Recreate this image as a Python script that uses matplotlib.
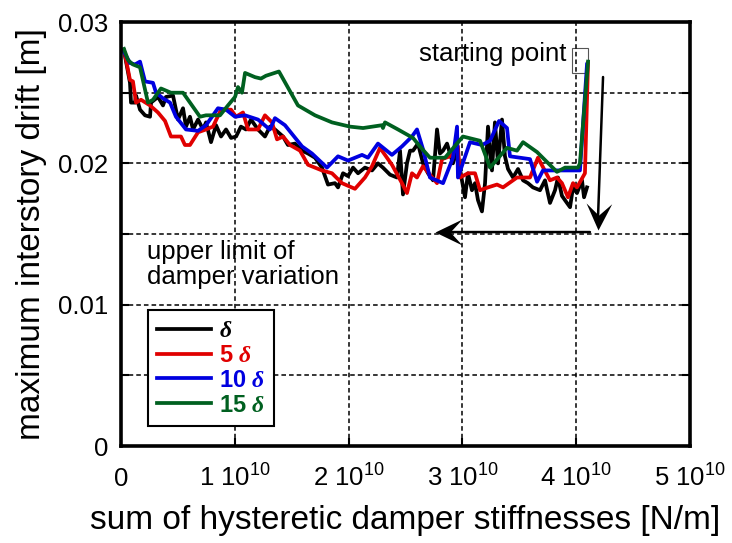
import matplotlib
matplotlib.use('Agg')
import matplotlib.pyplot as plt
from matplotlib.patches import Rectangle
from matplotlib.path import Path
import numpy as np

plt.rcParams['font.family'] = ['Liberation Sans', 'DejaVu Sans']
plt.rcParams['mathtext.fontset'] = 'custom'
plt.rcParams['mathtext.rm'] = 'Liberation Sans'
plt.rcParams['mathtext.it'] = 'Liberation Serif:italic:bold'
plt.rcParams['mathtext.default'] = 'regular'

# stiffness sum in units of 1e10 N/m, drift in m
x_d = [0.026, 0.079, 0.088, 0.123, 0.132, 0.167, 0.211, 0.255, 0.264, 0.325, 0.369, 0.395,
       0.457, 0.501, 0.545, 0.571, 0.606, 0.633, 0.677, 0.721, 0.747, 0.791, 0.835, 0.879,
       0.923, 0.967, 1.011, 1.054, 1.098, 1.142, 1.204, 1.265, 1.309, 1.353, 1.424, 1.467,
       1.529, 1.591, 1.643, 1.705, 1.766, 1.819, 1.880, 1.907, 1.951, 1.995, 2.039, 2.083,
       2.144, 2.206, 2.258, 2.302, 2.364, 2.425, 2.452, 2.478, 2.513, 2.540, 2.566, 2.610,
       2.654, 2.698, 2.742, 2.777, 2.803, 2.830, 2.865, 2.891, 2.917, 2.953, 2.996, 3.023,
       3.049, 3.084, 3.111, 3.137, 3.172, 3.199, 3.225, 3.260, 3.286, 3.313, 3.348, 3.374,
       3.401, 3.445, 3.489, 3.533, 3.576, 3.620, 3.682, 3.726, 3.770, 3.814, 3.840, 3.875,
       3.919, 3.946, 3.972, 4.007, 4.051, 4.069, 4.095]
y_d = [0.0280, 0.0257, 0.0243, 0.0243, 0.0248, 0.0238, 0.0234, 0.0233, 0.0243, 0.0247, 0.0241, 0.0247,
       0.0248, 0.0231, 0.0239, 0.0226, 0.0233, 0.0224, 0.0231, 0.0224, 0.0229, 0.0215, 0.0227, 0.0219,
       0.0224, 0.0218, 0.0219, 0.0226, 0.0224, 0.0231, 0.0224, 0.0219, 0.0226, 0.0224, 0.0219, 0.0213,
       0.0214, 0.0209, 0.0207, 0.0204, 0.0197, 0.0185, 0.0186, 0.0183, 0.0193, 0.0191, 0.0197, 0.0193,
       0.0197, 0.0195, 0.0200, 0.0197, 0.0192, 0.0190, 0.0209, 0.0178, 0.0200, 0.0209, 0.0209, 0.0214,
       0.0200, 0.0193, 0.0188, 0.0224, 0.0207, 0.0209, 0.0214, 0.0207, 0.0200, 0.0209, 0.0188, 0.0176,
       0.0193, 0.0181, 0.0186, 0.0174, 0.0166, 0.0186, 0.0226, 0.0195, 0.0229, 0.0200, 0.0231, 0.0205,
       0.0196, 0.0190, 0.0196, 0.0188, 0.0186, 0.0183, 0.0181, 0.0188, 0.0172, 0.0181, 0.0190, 0.0177,
       0.0172, 0.0169, 0.0183, 0.0179, 0.0188, 0.0176, 0.0183]

x_5d = [0.035, 0.079, 0.105, 0.132, 0.176, 0.255, 0.325, 0.387, 0.439, 0.527, 0.562, 0.606,
        0.677, 0.747, 0.808, 0.879, 0.967, 1.011, 1.072, 1.116, 1.204, 1.265, 1.327, 1.371,
        1.424, 1.485, 1.573, 1.643, 1.766, 1.854, 1.942, 2.056, 2.144, 2.206, 2.276, 2.381,
        2.469, 2.513, 2.557, 2.601, 2.654, 2.777, 2.821, 2.891, 2.961, 2.979, 3.049, 3.111,
        3.155, 3.225, 3.304, 3.357, 3.480, 3.594, 3.664, 3.770, 3.831, 3.875, 3.928, 3.972,
        4.007, 4.077, 4.104]
y_5d = [0.0277, 0.0259, 0.0258, 0.0243, 0.0245, 0.0241, 0.0236, 0.0230, 0.0219, 0.0219, 0.0213, 0.0213,
        0.0222, 0.0224, 0.0226, 0.0238, 0.0238, 0.0233, 0.0236, 0.0224, 0.0224, 0.0234, 0.0229, 0.0217,
        0.0219, 0.0213, 0.0209, 0.0199, 0.0195, 0.0193, 0.0186, 0.0182, 0.0190, 0.0198, 0.0211, 0.0199,
        0.0186, 0.0179, 0.0193, 0.0190, 0.0198, 0.0186, 0.0203, 0.0205, 0.0212, 0.0190, 0.0193, 0.0193,
        0.0181, 0.0183, 0.0185, 0.0183, 0.0190, 0.0190, 0.0204, 0.0188, 0.0190, 0.0186, 0.0176, 0.0186,
        0.0183, 0.0193, 0.0271]

x_10d = [0.026, 0.079, 0.123, 0.167, 0.211, 0.281, 0.308, 0.369, 0.431, 0.483, 0.571, 0.677,
         0.747, 0.852, 0.923, 1.002, 1.090, 1.204, 1.292, 1.309, 1.353, 1.441, 1.591, 1.678,
         1.810, 1.907, 1.995, 2.118, 2.170, 2.258, 2.381, 2.469, 2.557, 2.601, 2.654, 2.715,
         2.830, 2.917, 2.953, 2.961, 3.067, 3.172, 3.243, 3.322, 3.392, 3.418, 3.506, 3.594,
         3.656, 3.708, 3.796, 3.919, 4.033, 4.095]
y_10d = [0.0279, 0.0271, 0.0270, 0.0272, 0.0258, 0.0257, 0.0250, 0.0246, 0.0243, 0.0233, 0.0224, 0.0223,
         0.0227, 0.0239, 0.0238, 0.0233, 0.0234, 0.0231, 0.0225, 0.0224, 0.0232, 0.0227, 0.0212, 0.0207,
         0.0197, 0.0205, 0.0202, 0.0206, 0.0204, 0.0214, 0.0206, 0.0212, 0.0219, 0.0224, 0.0210, 0.0190,
         0.0186, 0.0204, 0.0226, 0.0190, 0.0215, 0.0213, 0.0216, 0.0230, 0.0225, 0.0205, 0.0204, 0.0203,
         0.0187, 0.0195, 0.0195, 0.0195, 0.0195, 0.0270]

x_15d = [0.026, 0.062, 0.105, 0.167, 0.237, 0.281, 0.351, 0.439, 0.545, 0.694, 0.747, 0.870,
         0.940, 1.002, 1.028, 1.063, 1.090, 1.178, 1.230, 1.274, 1.388, 1.555, 1.705, 1.854,
         2.012, 2.127, 2.293, 2.302, 2.320, 2.434, 2.566, 2.627, 2.715, 2.847, 3.005, 3.155,
         3.243, 3.392, 3.480, 3.533, 3.656, 3.743, 3.831, 3.902, 4.016, 4.033, 4.104]
y_15d = [0.0281, 0.0273, 0.0270, 0.0268, 0.0243, 0.0245, 0.0253, 0.0250, 0.0250, 0.0233, 0.0234, 0.0234,
         0.0241, 0.0247, 0.0254, 0.0250, 0.0264, 0.0261, 0.0260, 0.0262, 0.0265, 0.0241, 0.0234, 0.0229,
         0.0226, 0.0225, 0.0227, 0.0225, 0.0229, 0.0224, 0.0218, 0.0212, 0.0204, 0.0204, 0.0219, 0.0216,
         0.0197, 0.0211, 0.0209, 0.0215, 0.0208, 0.0201, 0.0194, 0.0197, 0.0197, 0.0200, 0.0272]

labels = [r'$\mathit{\delta}$', r'5 $\mathit{\delta}$', r'10 $\mathit{\delta}$', r'15 $\mathit{\delta}$']
colors = ['black', '#e00000', '#0000e0', '#006020']

xticks = [0, 1, 2, 3, 4, 5]
xticklabels = ['$0$', '1 10$^{10}$', '2 10$^{10}$', '3 10$^{10}$', '4 10$^{10}$', '5 10$^{10}$']
yticks = [0, 0.01, 0.02, 0.03]
yticklabels = ['0', '0.01', '0.02', '0.03']

fig = plt.figure(figsize=(7.32, 5.43), dpi=100)
ax = fig.add_axes([0.1653, 0.1786, 0.7773, 0.7808])

series = [(x_d, y_d), (x_5d, y_5d), (x_10d, y_10d), (x_15d, y_15d)]
for (xs, ys), lab, c in zip(series, labels, colors):
    ax.plot(xs, ys, color=c, lw=2.7, label=lab)

ax.set_xlim(0, 5)
ax.set_ylim(0, 0.03)
ax.set_xticks(xticks)
ax.set_xticklabels(xticklabels)
ax.set_yticks(yticks)
ax.set_yticklabels(yticklabels)
ax.set_yticks([0.005, 0.015, 0.025], minor=True)

ax.grid(True, which='both', color='black', ls=(0, (3, 2)), lw=1.1)
ax.tick_params(which='both', direction='in', right=True, top=False, length=6, width=1.5,
               labelsize=18.5)
ax.tick_params(axis='y', pad=9)
# baseline aligned so "0" sits level with the 10^10 labels
ax.tick_params(axis='x', pad=29)
for t in ax.get_xticklabels():
    t.set_va('baseline')
for sp in ax.spines.values():
    sp.set_linewidth(2.6)

ax.set_xlabel('sum of hysteretic damper stiffnesses [N/m]', fontsize=24, labelpad=10)
ax.set_ylabel('maximum interstory drift [m]', fontsize=24, labelpad=8)

# annotations
ax.text(2.619, 0.02724, 'starting point', fontsize=18.5, ha='left', va='baseline')
ax.add_patch(Rectangle((3.963, 0.02639), 0.1406, 0.00177, fill=False, ec='#555555', lw=0.8))
ax.text(0.228, 0.01458, 'upper limit of\ndamper variation', fontsize=18.5, ha='left', va='top',
        linespacing=1.05)


def head(angle):
    # concave arrow head, tip at the origin, pointing along angle (deg)
    v = np.array([[0, 0], [-27, 13], [-15, 0], [-27, -13], [0, 0]], dtype=float)
    a = np.deg2rad(angle)
    rot = np.array([[np.cos(a), -np.sin(a)], [np.sin(a), np.cos(a)]])
    return Path(v @ rot.T, closed=True)


ax.annotate('', xy=(4.191, 0.0160), xytext=(4.236, 0.02611),
            arrowprops=dict(arrowstyle='-', lw=1.8, color='black', shrinkA=0, shrinkB=0))
ax.plot([4.191], [0.01528], marker=head(-91.9), ms=39, color='black', mew=0)
ax.annotate('', xy=(2.85, 0.01514), xytext=(4.121, 0.01514),
            arrowprops=dict(arrowstyle='-', lw=1.8, color='black', shrinkA=0, shrinkB=0))
ax.plot([2.759], [0.01514], marker=head(180), ms=39, color='black', mew=0)

leg = ax.legend(loc='lower left', bbox_to_anchor=(0.047, 0.047), borderaxespad=0,
                fancybox=False, framealpha=1, edgecolor='black', labelcolor='linecolor',
                prop={'weight': 'bold', 'size': 17}, handlelength=2.3, handletextpad=0.3,
                labelspacing=0.08, borderpad=0.4)
leg.get_frame().set_linewidth(1.5)

fig.savefig('out.png', dpi=100)
